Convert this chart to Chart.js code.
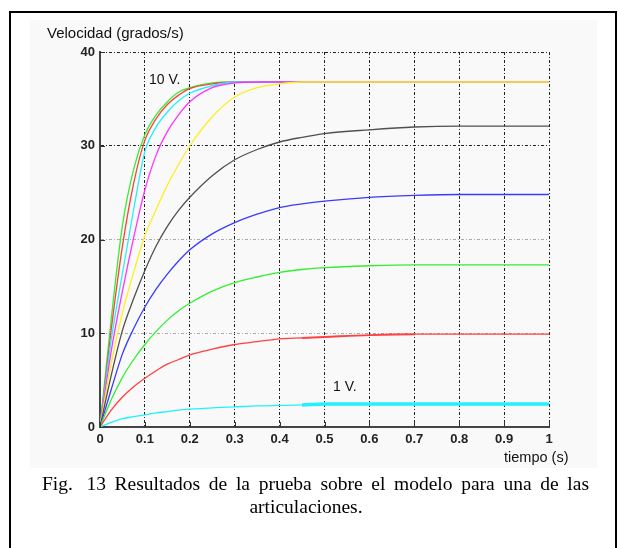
<!DOCTYPE html>
<html>
<head>
<meta charset="utf-8">
<script src="https://cdn.jsdelivr.net/npm/chart.js@4"></script>
<style>
  html, body { margin: 0; padding: 0; background: #fff; overflow: hidden; }
  #marco { position: absolute; left: 9px; top: 11px; width: 604px; height: 560px; border: 2px solid #000; }
  #fondo { position: absolute; left: 30px; top: 20px; width: 567px; height: 448px; background: #f9f9f9; }
  #grafico { position: absolute; left: 0; top: 0; }
</style>
</head>
<body>
<div id="marco"></div>
<div id="fondo"></div>
<canvas id="grafico" width="618" height="548"></canvas>
<script>
// tiempos de muestreo (s)
const tiempos = [0, 0.025, 0.05, 0.075, 0.1, 0.125, 0.15, 0.175, 0.2, 0.25, 0.3, 0.35, 0.4, 0.45, 0.5, 0.6, 0.7, 0.8, 0.9, 1.0];

// velocidad (grados/s) para cada tension de entrada
const v1  = [0, 0.5, 0.9, 1.1, 1.3, 1.5, 1.65, 1.8, 1.9, 2.05, 2.15, 2.25, 2.3, 2.35, 2.45, 2.45, 2.45, 2.45, 2.45, 2.45];
const v2  = [0, 1.8, 3.2, 4.3, 5.2, 6.0, 6.7, 7.2, 7.7, 8.3, 8.8, 9.1, 9.4, 9.5, 9.6, 9.8, 9.9, 9.9, 9.9, 9.9];
const v3  = [0, 2.9, 5.3, 7.2, 8.8, 10.2, 11.4, 12.4, 13.2, 14.5, 15.4, 16.0, 16.5, 16.8, 17.0, 17.2, 17.3, 17.3, 17.3, 17.3];
const v4  = [0, 4.0, 7.8, 10.5, 12.8, 14.7, 16.3, 17.7, 18.9, 20.6, 21.8, 22.7, 23.4, 23.8, 24.1, 24.5, 24.7, 24.8, 24.8, 24.8];
const v5  = [0, 5.5, 10.3, 13.7, 16.7, 19.3, 21.4, 23.1, 24.5, 26.8, 28.5, 29.6, 30.4, 30.9, 31.3, 31.7, 32.0, 32.1, 32.1, 32.1];
const v6  = [0, 6.8, 12.2, 16.5, 20.4, 23.2, 25.8, 28.0, 30.0, 33.1, 35.2, 36.2, 36.6, 36.8, 36.8, 36.8, 36.8, 36.8, 36.8, 36.8];
const v7  = [0, 8.1, 14.5, 20.2, 25.3, 29.0, 31.5, 33.3, 34.7, 36.2, 36.7, 36.8, 36.8, 36.8, 36.8, 36.8, 36.8, 36.8, 36.8, 36.8];
const v8  = [0, 9.3, 16.4, 23.2, 29.4, 32.0, 33.6, 34.8, 35.6, 36.4, 36.8, 36.8, 36.8, 36.8, 36.8, 36.8, 36.8, 36.8, 36.8, 36.8];
const v9  = [0, 10.4, 19.3, 26.0, 30.6, 32.9, 34.4, 35.4, 36.1, 36.6, 36.8, 36.8, 36.8, 36.8, 36.8, 36.8, 36.8, 36.8, 36.8, 36.8];
const v10 = [0, 11.5, 21.5, 27.5, 31.2, 33.3, 34.7, 35.7, 36.2, 36.7, 36.8, 36.8, 36.8, 36.8, 36.8, 36.8, 36.8, 36.8, 36.8, 36.8];

const series = [v1, v2, v3, v4, v5, v6, v7, v8, v9, v10];
const etiquetas = ["1 V.", "2 V.", "3 V.", "4 V.", "5 V.", "6 V.", "7 V.", "8 V.", "9 V.", "10 V."];
const colores = ["#22f0ff", "#ff4040", "#33ee33", "#3a3aff", "#505050", "#ffee22", "#ff33ff", "#22f0ff", "#ff4040", "#33ee33"];

const datasets = series.map((vals, i) => ({
    label: etiquetas[i],
    data: vals.map((v, j) => ({ x: tiempos[j], y: v })),
    borderColor: colores[i],
    borderWidth: 1.3,
    pointRadius: 0,
    fill: false,
    cubicInterpolationMode: "monotone",
    segment: {
        borderWidth: ctx => {
            if (i === 0 && ctx.p0.parsed.x >= 0.45) return 3.5;
            if (i === 1 && ctx.p0.parsed.x >= 0.45 && ctx.p0.parsed.x < 0.7) return 2;
            return undefined;
        }
    }
}));

// texto justificado a un ancho dado (el doble espacio no se estira)
function textoJustificado(ctx, texto, x, y, ancho) {
    const partes = texto.split(" ");
    const espacio = ctx.measureText(" ").width;
    const natural = ctx.measureText(texto).width;
    const huecos = partes.filter((p, k) => k > 0 && p !== "").length;
    const extra = (ancho - natural) / huecos;
    let px = x;
    partes.forEach((p, k) => {
        if (p === "") { px += espacio; return; }
        ctx.fillText(p, px, y);
        px += ctx.measureText(p).width + espacio + (k < partes.length - 1 ? extra : 0);
    });
}

// marcas de division hacia dentro y textos
const textos = {
    id: "textos",
    afterDatasetsDraw(chart) {
        const { ctx, chartArea, scales } = chart;
        ctx.save();
        ctx.strokeStyle = "#333";
        ctx.lineWidth = 1;
        scales.x.ticks.forEach(t => {
            const px = Math.round(scales.x.getPixelForValue(t.value)) + 0.5;
            ctx.beginPath();
            ctx.moveTo(px, chartArea.bottom);
            ctx.lineTo(px, chartArea.bottom - 5);
            ctx.stroke();
        });
        scales.y.ticks.forEach(t => {
            const py = Math.round(scales.y.getPixelForValue(t.value)) + 0.5;
            ctx.beginPath();
            ctx.moveTo(chartArea.left, py);
            ctx.lineTo(chartArea.left + 5, py);
            ctx.stroke();
        });

        ctx.fillStyle = "#111";
        ctx.textBaseline = "alphabetic";
        ctx.textAlign = "left";
        ctx.font = "15px 'Liberation Sans', Arial, sans-serif";
        ctx.fillText("Velocidad (grados/s)", 47, 38);
        ctx.font = "14.5px 'Liberation Sans', Arial, sans-serif";
        ctx.fillText("tiempo (s)", 504, 462);
        ctx.font = "14px 'Liberation Sans', Arial, sans-serif";
        ctx.fillText("10 V.", 149, 84);
        ctx.fillText("1 V.", 333, 391);

        ctx.fillStyle = "#000";
        ctx.font = "19.5px 'Liberation Serif', 'Times New Roman', serif";
        textoJustificado(ctx, "Fig.  13 Resultados de la prueba sobre el modelo para una de las", 42, 490, 547);
        ctx.textAlign = "center";
        ctx.fillText("articulaciones.", 306, 513);
        ctx.restore();
    }
};

const fuenteEjes = { family: "'Liberation Sans', Arial, sans-serif", size: 13, weight: "bold" };

new Chart(document.getElementById("grafico").getContext("2d"), {
    type: "line",
    data: { datasets: datasets },
    plugins: [textos],
    options: {
        responsive: false,
        animation: false,
        layout: { padding: { left: 60, top: 52, right: 69, bottom: 99 } },
        plugins: { legend: { display: false }, tooltip: { enabled: false } },
        scales: {
            x: {
                type: "linear",
                min: 0,
                max: 1,
                afterFit: scale => { scale.height = 22; },
                ticks: {
                    stepSize: 0.1,
                    padding: 5,
                    color: "#222",
                    font: fuenteEjes,
                    callback: v => String(Number(v.toFixed(1)))
                },
                grid: { color: "#222", lineWidth: 1, drawTicks: false },
                border: { display: true, color: "#444", width: 2, dash: [3, 2, 1, 2] }
            },
            y: {
                min: 0,
                max: 40,
                afterFit: scale => { scale.width = 40; },
                ticks: {
                    stepSize: 10,
                    padding: 5,
                    color: "#222",
                    font: fuenteEjes
                },
                grid: {
                    color: ctx => (ctx.tick && (ctx.tick.value === 10 || ctx.tick.value === 20)) ? "#aaa" : "#222",
                    lineWidth: 1,
                    drawTicks: false
                },
                border: { display: true, color: "#444", width: 2, dash: [3, 2, 1, 2] }
            }
        }
    }
});
</script>
</body>
</html>
